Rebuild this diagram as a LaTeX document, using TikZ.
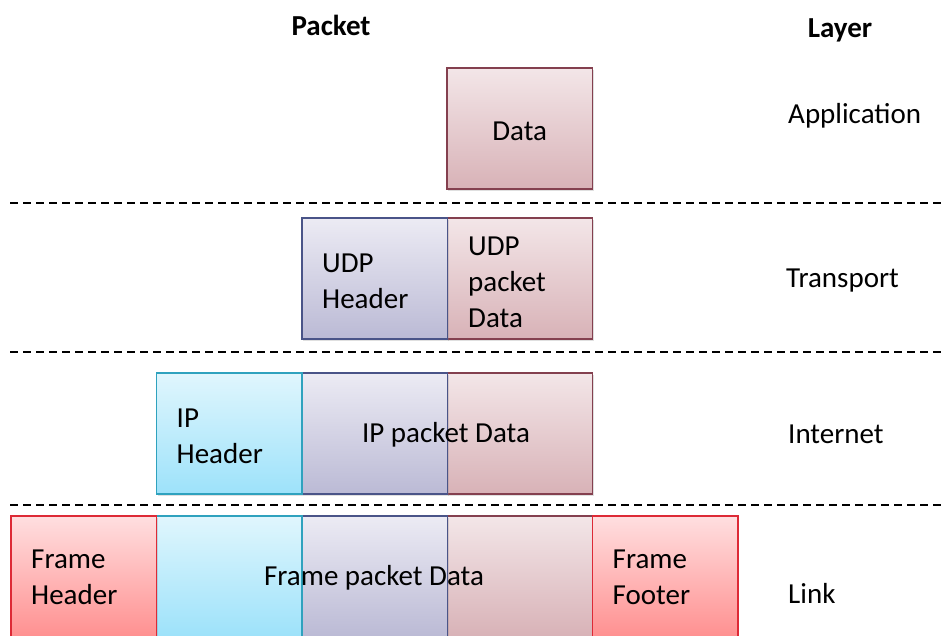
\documentclass[tikz,border=0pt]{standalone}
\usepackage{fontspec}
\setmainfont{Carlito}
\usetikzlibrary{shadows}

% Fill and border colours of the packet parts
\definecolor{dataTop}{HTML}{F3E6E8}
\definecolor{dataBot}{HTML}{D8B2B7}
\definecolor{dataLine}{HTML}{84404F}
\definecolor{udpTop}{HTML}{ECEBF4}
\definecolor{udpBot}{HTML}{BBBAD5}
\definecolor{udpLine}{HTML}{4A5488}
\definecolor{ipTop}{HTML}{E0F6FD}
\definecolor{ipBot}{HTML}{9DE2FA}
\definecolor{ipLine}{HTML}{2FA2BE}
\definecolor{frTop}{HTML}{FFDFE0}
\definecolor{frBot}{HTML}{FF9090}
\definecolor{frLine}{HTML}{DD2A36}

\tikzset{
  cell/.style={rectangle, anchor=north west, inner sep=0pt,
    minimum width=145.5pt, minimum height=121pt, line width=1.8pt,
    drop shadow={shadow xshift=1.5pt, shadow yshift=-2.5pt, opacity=0.25}},
  datacell/.style={cell, draw=dataLine, top color=dataTop, bottom color=dataBot},
  udpcell/.style={cell, draw=udpLine, top color=udpTop, bottom color=udpBot},
  ipcell/.style={cell, draw=ipLine, top color=ipTop, bottom color=ipBot},
  frcell/.style={cell, draw=frLine, top color=frTop, bottom color=frBot},
  txt/.style={inner sep=0pt, align=left, font=\fontsize{29}{36}\selectfont},
  head/.style={inner sep=0pt, font=\fontsize{29}{34}\selectfont\bfseries},
  sep/.style={line width=1.5pt, dash pattern=on 8pt off 5pt},
}

\begin{document}
\begin{tikzpicture}[x=1pt, y=-1pt]
  \useasboundingbox (0,0) rectangle (944,635);
  \clip (0,0) rectangle (944,635);

  % column headings
  \node[head] (hpacket) at (331,25) {Packet};
  \node[head] (hlayer) at (840,30) {Layer};

  % layer separators
  \coordinate (s1a) at (10,203);  \coordinate (s1b) at (944,203);
  \coordinate (s2a) at (10,352);  \coordinate (s2b) at (944,352);
  \coordinate (s3a) at (10,505);  \coordinate (s3b) at (944,505);
  \draw[sep] (s1a) -- (s1b);
  \draw[sep] (s2a) -- (s2b);
  \draw[sep] (s3a) -- (s3b);

  % application layer
  \node[datacell] (appdata) at (446,67) {};
  \node[txt] (appdatat) at ([yshift=-3pt]appdata.center) {Data};

  % transport layer
  \node[datacell] (udpdata) at (446,217) {};
  \node[udpcell] (udphead) at (301,217) {};
  \node[txt, anchor=west] (udpheadt) at ([xshift=21pt, yshift=-3pt]udphead.west) {UDP\\Header};
  \node[txt, anchor=west] (udpdatat) at ([xshift=22pt, yshift=-4pt]udpdata.west) {UDP\\packet\\Data};

  % internet layer
  \node[datacell] (ipdata) at (446,372) {};
  \node[udpcell] (ipudp) at (301,372) {};
  \node[ipcell] (iphead) at (155.5,372) {};
  \node[txt, anchor=west] (ipheadt) at ([xshift=21pt, yshift=-3pt]iphead.west) {IP\\Header};
  \node[txt] (ipdatat) at (446,435) {IP packet Data};

  % link layer
  \node[datacell] (lkdata) at (446,515) {};
  \node[udpcell] (lkudp) at (301,515) {};
  \node[ipcell] (lkip) at (155.5,515) {};
  \node[frcell] (lkhead) at (10,515) {};
  \node[frcell] (lkfoot) at (591.5,515) {};
  \node[txt, anchor=west] (lkheadt) at ([xshift=21pt, yshift=-1pt]lkhead.west) {Frame\\Header};
  \node[txt, anchor=west] (lkfoott) at ([xshift=21pt, yshift=-1pt]lkfoot.west) {Frame\\Footer};
  \node[txt] (lkdatat) at (374,578) {Frame packet Data};

  % layer names
  \node[txt, anchor=west] (lapp) at (788,116) {Application};
  \node[txt, anchor=west] (ltr) at (786,281) {Transport};
  \node[txt, anchor=west] (lint) at (788,434) {Internet};
  \node[txt, anchor=west] (llink) at (788,593) {Link};
\end{tikzpicture}
\end{document}
